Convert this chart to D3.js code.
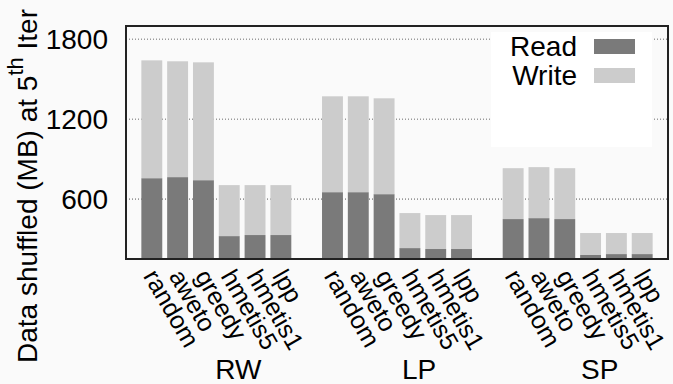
<!DOCTYPE html>
<html>
<head>
<meta charset="utf-8">
<script src="https://cdn.jsdelivr.net/npm/d3@7"></script>
<style>
  body { margin: 0; background: #fafafa; }
  svg { display: block; font-family: "Liberation Sans", Arial, sans-serif; }
</style>
</head>
<body>
<script>
// groups and the partitioners inside each group
var groups = ["RW", "LP", "SP"];
var methods = ["random", "aweto", "greedy", "hmetis5", "hmetis1", "lpp"];

// MB shuffled at the 5th iteration, read part and write part
var readRW  = [757, 765, 742, 322, 330, 330];
var writeRW = [885, 870, 885, 383, 375, 375];
var readLP  = [652, 652, 637, 232, 225, 225];
var writeLP = [720, 720, 720, 263, 255, 255];
var readSP  = [450, 457, 450, 180, 187, 187];
var writeSP = [382, 383, 382, 165, 158, 158];

var yTicks = [600, 1200, 1800];
var seriesNames = ["Read", "Write"];
var seriesColors = ["#7a7a7a", "#cccccc"];

var svgWidth = 673, svgHeight = 384;
var margin = { top: 26, right: 5, bottom: 125, left: 126 };
var chartWidth = svgWidth - margin.left - margin.right;
var chartHeight = svgHeight - margin.top - margin.bottom;

var svg = d3.select("body").append("svg")
  .attr("width", svgWidth)
  .attr("height", svgHeight);

// build rows: one per bar, with a blank slot between groups
var readAll = [readRW, readLP, readSP];
var writeAll = [writeRW, writeLP, writeSP];
var rows = [];
groups.forEach(function(g, gi) {
  methods.forEach(function(m, mi) {
    rows.push({ group: g, method: m, slot: gi * (methods.length + 1) + mi,
                read: readAll[gi][mi], write: writeAll[gi][mi] });
  });
});
var lastSlot = d3.max(rows, function(d) { return d.slot; });

var x = d3.scaleLinear()
  .domain([-1, lastSlot + 1])
  .range([margin.left, margin.left + chartWidth]);
var step = x(1) - x(0);
var barW = step * 0.81;

var y = d3.scaleLinear()
  .domain([150, 1900])
  .range([margin.top + chartHeight, margin.top]);

// grid lines
svg.append("g")
  .selectAll("line")
  .data(yTicks)
  .enter().append("line")
    .attr("x1", margin.left)
    .attr("x2", margin.left + chartWidth)
    .attr("y1", function(d) { return y(d); })
    .attr("y2", function(d) { return y(d); })
    .attr("stroke", "#9a9a9a")
    .attr("stroke-width", 1.6)
    .attr("stroke-dasharray", "1,2");

// legend box sits over the grid
var legend = svg.append("g");
legend.append("rect")
  .attr("x", 491).attr("y", 32)
  .attr("width", 161).attr("height", 115)
  .attr("fill", "#ffffff");

// stacked bars
var stack = d3.stack().keys(["read", "write"]);
var layers = stack(rows);
svg.append("g")
  .selectAll("g")
  .data(layers)
  .enter().append("g")
    .attr("fill", function(d, i) { return seriesColors[i]; })
  .selectAll("rect")
  .data(function(d) { return d; })
  .enter().append("rect")
    .attr("x", function(d) { return x(d.data.slot) - barW / 2; })
    .attr("width", barW)
    .attr("y", function(d) { return y(d[1]); })
    .attr("height", function(d) { return y(d[0] === 0 ? 150 : d[0]) - y(d[1]); });

// frame
svg.append("rect")
  .attr("x", margin.left).attr("y", margin.top)
  .attr("width", chartWidth).attr("height", chartHeight)
  .attr("fill", "none")
  .attr("stroke", "#222")
  .attr("stroke-width", 2);

// y tick labels
svg.append("g")
  .selectAll("text")
  .data(yTicks)
  .enter().append("text")
    .attr("x", 108)
    .attr("y", function(d) { return y(d); })
    .attr("dy", "0.36em")
    .attr("text-anchor", "end")
    .style("font-size", "28px")
    .text(function(d) { return d; });

// y axis title
var yTitle = svg.append("text")
  .attr("transform", "translate(37," + 186 + ") rotate(-90)")
  .attr("text-anchor", "middle")
  .style("font-size", "28px");
yTitle.append("tspan").text("Data shuffled (MB) at 5");
yTitle.append("tspan").attr("dy", "-14px").style("font-size", "22px").text("th");
yTitle.append("tspan").attr("dy", "14px").text(" Iter");

// rotated method labels
svg.append("g")
  .selectAll("text")
  .data(rows)
  .enter().append("text")
    .attr("transform", function(d) {
      return "translate(" + (x(d.slot) - 9) + ",276) rotate(60)";
    })
    .attr("text-anchor", "start")
    .style("font-size", "25px")
    .text(function(d) { return d.method; });

// group labels
svg.append("g")
  .selectAll("text")
  .data(groups)
  .enter().append("text")
    .attr("x", function(d, gi) {
      var s = gi * (methods.length + 1);
      return (x(s) + x(s + methods.length - 1)) / 2 + 22;
    })
    .attr("y", 379)
    .attr("text-anchor", "middle")
    .style("font-size", "28px")
    .text(function(d) { return d; });

// legend entries
seriesNames.forEach(function(name, i) {
  legend.append("text")
    .attr("x", 577)
    .attr("y", 56 + i * 29)
    .attr("text-anchor", "end")
    .style("font-size", "28px")
    .text(name);
  legend.append("rect")
    .attr("x", 594)
    .attr("y", 39 + i * 29)
    .attr("width", 41)
    .attr("height", 15)
    .attr("fill", seriesColors[i]);
});
</script>
</body>
</html>
